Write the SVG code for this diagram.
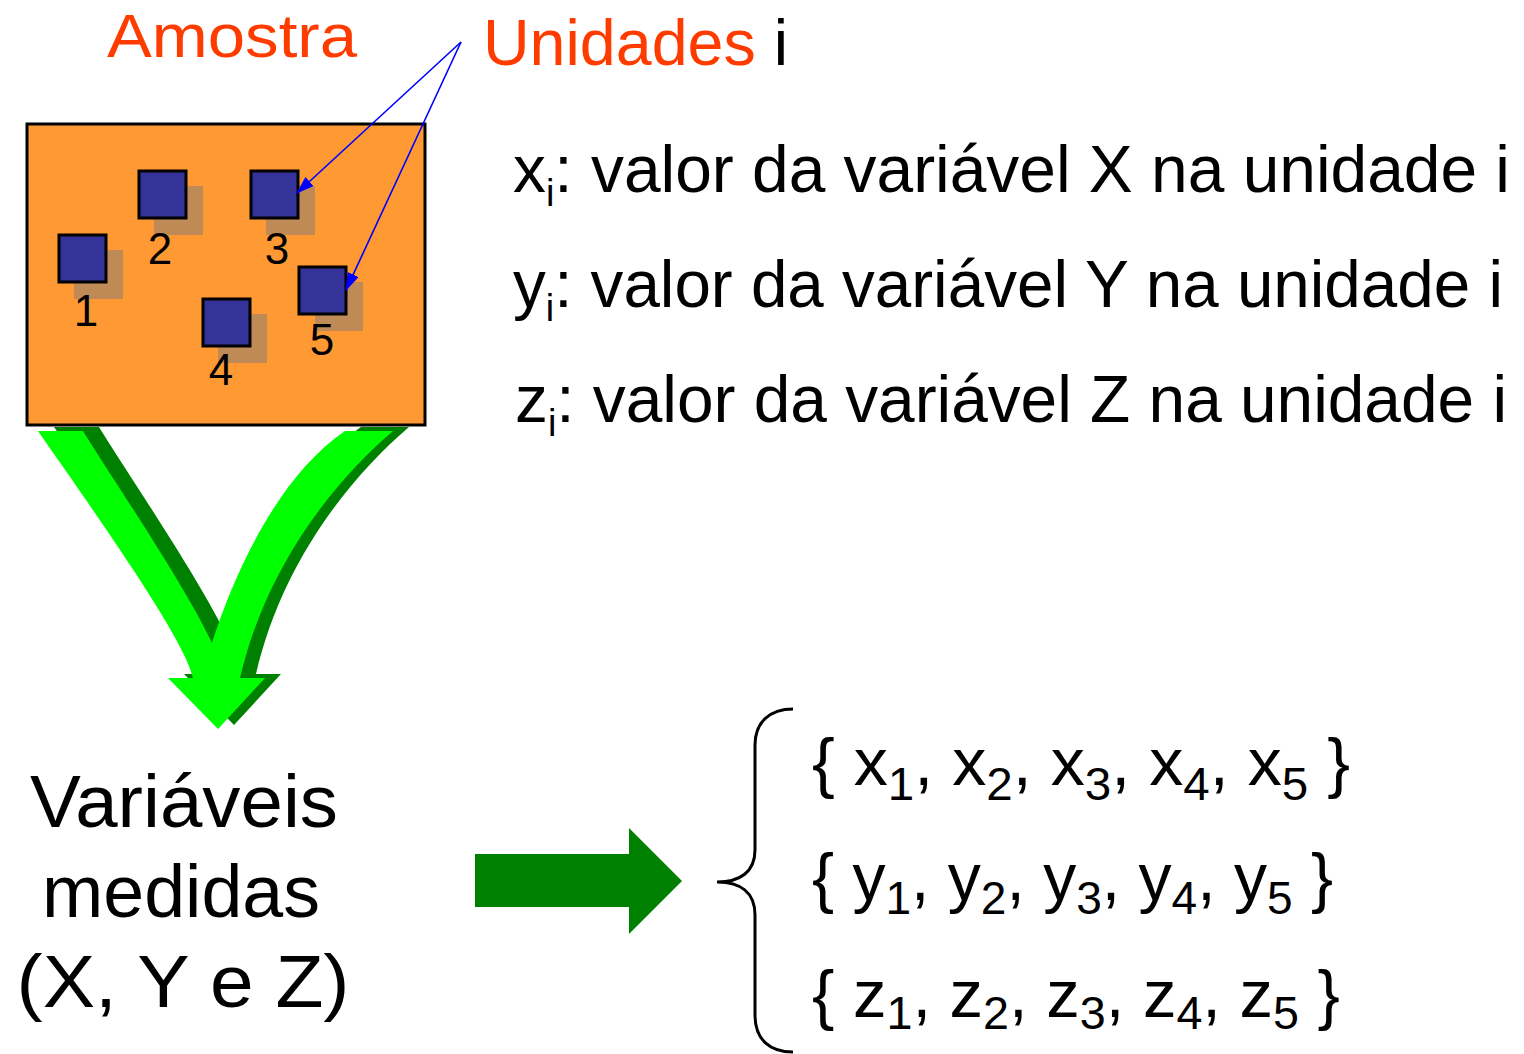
<svg xmlns="http://www.w3.org/2000/svg" width="1524" height="1054" viewBox="0 0 1524 1054">
<style>
.t{font-family:"Liberation Sans",Arial,sans-serif;fill:#000}
.red{font-family:"Liberation Sans",Arial,sans-serif;fill:#FF3C00}
.num{font-family:"Liberation Sans",Arial,sans-serif;font-size:44px;fill:#000;text-anchor:middle}
.sq{fill:#333399;stroke:#000;stroke-width:3}
.sh{fill:#C08A56}
.blue{stroke:#0000FF;stroke-width:1.6;fill:none;marker-end:url(#ah)}
</style>
<defs>
<marker id="ah" markerWidth="18" markerHeight="12" refX="17" refY="6" orient="auto" markerUnits="userSpaceOnUse">
<path d="M0,0 L18,6 L0,12 Z" fill="#0000FF"/>
</marker>
<path id="vshape" d="M38,431 L83,431 C110,475 185,585 212,643 C235,570 280,475 345,431 L393,431 C330,485 265,570 240,678 L265,678 L218,729 L168,678 L193,678 C185,640 100,520 38,431 Z"/>
</defs>
<rect width="1524" height="1054" fill="#fff"/>

<g id="v-arrow">
<use href="#vshape" transform="translate(16,-4)" fill="#008000"/>
<use href="#vshape" fill="#00FF00"/>
</g>

<g id="amostra-box">
<rect x="27" y="124" width="398" height="301" fill="#FF9933" stroke="#000" stroke-width="3"/>
</g>

<g id="unit1">
<rect class="sh" x="74" y="250" width="49" height="49"/>
<rect class="sq" x="59" y="235" width="47" height="47"/>
<text class="num" x="86" y="326">1</text>
</g>
<g id="unit2">
<rect class="sh" x="154" y="186" width="49" height="49"/>
<rect class="sq" x="139" y="171" width="47" height="47"/>
<text class="num" x="160" y="264">2</text>
</g>
<g id="unit3">
<rect class="sh" x="266" y="186" width="49" height="49"/>
<rect class="sq" x="251" y="171" width="47" height="47"/>
<text class="num" x="277" y="264">3</text>
</g>
<g id="unit4">
<rect class="sh" x="218" y="314" width="49" height="49"/>
<rect class="sq" x="203" y="299" width="47" height="47"/>
<text class="num" x="221" y="385">4</text>
</g>
<g id="unit5">
<rect class="sh" x="315" y="282" width="48" height="49"/>
<rect class="sq" x="299" y="267" width="47" height="47"/>
<text class="num" x="322" y="355">5</text>
</g>

<g id="connectors">
<line class="blue" x1="461" y1="42" x2="297" y2="193"/>
<line class="blue" x1="461" y1="42" x2="346" y2="290"/>
</g>

<g id="labels">
<text class="red" x="107" y="57" font-size="62" textLength="250" lengthAdjust="spacingAndGlyphs">Amostra</text>
<text class="red" x="483" y="65" font-size="64" textLength="305" lengthAdjust="spacingAndGlyphs">Unidades <tspan fill="#000">i</tspan></text>
</g>

<g id="definitions">
<text class="t" x="513" y="192" font-size="66" textLength="997" lengthAdjust="spacingAndGlyphs">x<tspan font-size="38" dy="14">i</tspan><tspan dy="-14">: valor da variável X na unidade i</tspan></text>
<text class="t" x="513" y="307" font-size="66" textLength="990" lengthAdjust="spacingAndGlyphs">y<tspan font-size="38" dy="14">i</tspan><tspan dy="-14">: valor da variável Y na unidade i</tspan></text>
<text class="t" x="515" y="422" font-size="66" textLength="992" lengthAdjust="spacingAndGlyphs">z<tspan font-size="38" dy="14">i</tspan><tspan dy="-14">: valor da variável Z na unidade i</tspan></text>
</g>

<g id="variaveis">
<text class="t" x="184" y="827" font-size="75" text-anchor="middle" textLength="308" lengthAdjust="spacingAndGlyphs">Variáveis</text>
<text class="t" x="181" y="917" font-size="75" text-anchor="middle" textLength="278" lengthAdjust="spacingAndGlyphs">medidas</text>
<text class="t" x="183" y="1007" font-size="75" text-anchor="middle" textLength="333" lengthAdjust="spacingAndGlyphs">(X, Y e Z)</text>
</g>

<g id="right-arrow">
<polygon points="475,854 629,854 629,828 682,881 629,934 629,907 475,907" fill="#008000"/>
</g>

<g id="brace">
<path d="M793,709 C770,709 755,722 755,745 L755,850 C755,872 740,882 717,882 C740,882 755,892 755,915 L755,1015 C755,1040 770,1052 793,1052" fill="none" stroke="#000" stroke-width="3"/>
</g>

<g id="sets">
<text class="t" x="812" y="785" font-size="66" textLength="538" lengthAdjust="spacingAndGlyphs">{ x<tspan font-size="46" dy="15">1</tspan><tspan dy="-15">, x</tspan><tspan font-size="46" dy="15">2</tspan><tspan dy="-15">, x</tspan><tspan font-size="46" dy="15">3</tspan><tspan dy="-15">, x</tspan><tspan font-size="46" dy="15">4</tspan><tspan dy="-15">, x</tspan><tspan font-size="46" dy="15">5</tspan><tspan dy="-15"> }</tspan></text>
<text class="t" x="812" y="900" font-size="66" textLength="521" lengthAdjust="spacingAndGlyphs">{ y<tspan font-size="46" dy="14">1</tspan><tspan dy="-14">, y</tspan><tspan font-size="46" dy="14">2</tspan><tspan dy="-14">, y</tspan><tspan font-size="46" dy="14">3</tspan><tspan dy="-14">, y</tspan><tspan font-size="46" dy="14">4</tspan><tspan dy="-14">, y</tspan><tspan font-size="46" dy="14">5</tspan><tspan dy="-14"> }</tspan></text>
<text class="t" x="812" y="1017" font-size="66" textLength="528" lengthAdjust="spacingAndGlyphs">{ z<tspan font-size="46" dy="12">1</tspan><tspan dy="-12">, z</tspan><tspan font-size="46" dy="12">2</tspan><tspan dy="-12">, z</tspan><tspan font-size="46" dy="12">3</tspan><tspan dy="-12">, z</tspan><tspan font-size="46" dy="12">4</tspan><tspan dy="-12">, z</tspan><tspan font-size="46" dy="12">5</tspan><tspan dy="-12"> }</tspan></text>
</g>
</svg>
